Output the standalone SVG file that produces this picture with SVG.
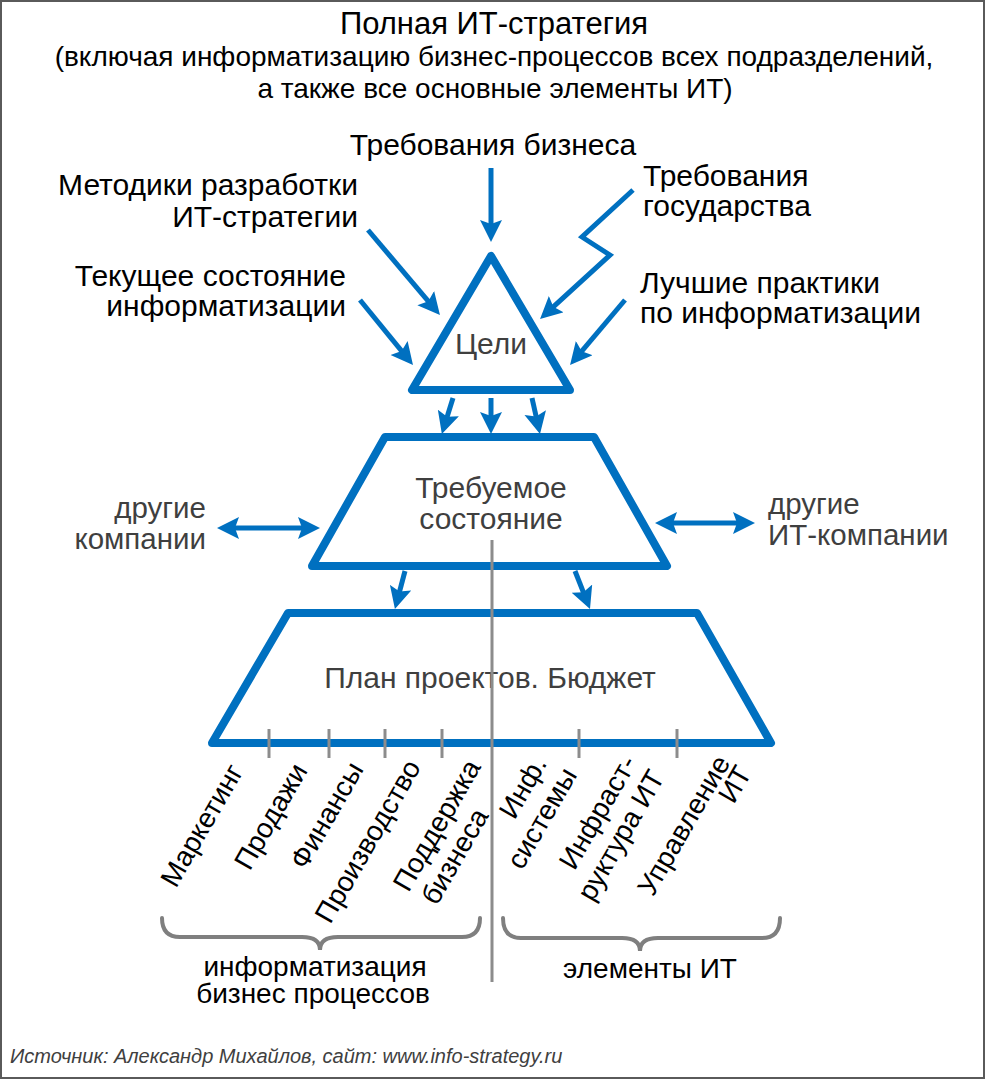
<svg xmlns="http://www.w3.org/2000/svg" width="986" height="1080" viewBox="0 0 986 1080">
<style>
.t{font-family:"Liberation Sans",Arial,sans-serif;font-size:30px;fill:#000}
.s{font-family:"Liberation Sans",Arial,sans-serif;font-size:28px;fill:#000}
.g{font-family:"Liberation Sans",Arial,sans-serif;font-size:30px;fill:#3f3f3f}
.r{font-family:"Liberation Sans",Arial,sans-serif;font-size:28px;fill:#000;text-anchor:middle}
.m{text-anchor:middle}
.e{text-anchor:end}
.shape{fill:#fff;stroke:#0070c0;stroke-width:8;stroke-linejoin:round}
.arr{fill:none;stroke:#0070c0;stroke-width:5}
.gl{fill:none;stroke:#8c8c8c;stroke-width:3}
.br{fill:none;stroke:#7f7f7f;stroke-width:4;stroke-linecap:round}
</style>
<defs>
<marker id="ah" markerUnits="userSpaceOnUse" markerWidth="24" markerHeight="24" refX="10" refY="11" orient="auto-start-reverse">
<path d="M0,0 L22,11 L0,22 L4,11 z" fill="#0070c0"/>
</marker>
</defs>
<rect x="1" y="1" width="983" height="1077" fill="#fff" stroke="#5a5a5a" stroke-width="2"/>
<g id="title">
<text class="s m" x="494" y="34" style="font-size:31px">Полная ИТ-стратегия</text>
<text class="s m" x="494" y="66">(включая информатизацию бизнес-процессов всех подразделений,</text>
<text class="s m" x="495" y="98">а также все основные элементы ИТ)</text>
</g>
<g id="inputs">
<text class="t m" x="493" y="155">Требования бизнеса</text>
<text class="t e" x="358" y="195">Методики разработки</text>
<text class="t e" x="358" y="227">ИТ-стратегии</text>
<text class="t" x="643" y="186">Требования</text>
<text class="t" x="643" y="216">государства</text>
<text class="t e" x="346" y="286">Текущее состояние</text>
<text class="t e" x="346" y="316">информатизации</text>
<text class="t" x="640" y="293">Лучшие практики</text>
<text class="t" x="640" y="323">по информатизации</text>
</g>
<g id="node-goals">
<polygon class="shape" points="491,256 412,390 570,390"/>
<text class="g m" x="491" y="354">Цели</text>
</g>
<g id="node-required">
<polygon class="shape" points="385,437 594,437 667,566 312,566"/>
<text class="g m" x="491" y="498">Требуемое</text>
<text class="g m" x="491" y="529">состояние</text>
</g>
<g id="node-plan">
<polygon class="shape" points="288,613 697,613 771,743 212,743"/>
<text class="g m" x="490" y="688">План проектов. Бюджет</text>
</g>
<g id="other-companies">
<text class="g e" x="206" y="518" style="font-size:29.5px">другие</text>
<text class="g e" x="206" y="549" style="font-size:29.5px">компании</text>
</g>
<g id="other-it-companies">
<text class="g" x="768" y="514" style="font-size:29.5px">другие</text>
<text class="g" x="768" y="545" style="font-size:29.5px">ИТ-компании</text>
</g>
<g id="connectors">
<path class="arr" d="M491,168 L491,230" marker-end="url(#ah)"/>
<path class="arr" d="M368,230 L432.2,305.8" marker-end="url(#ah)"/>
<path class="arr" d="M360,300 L405.4,355.7" marker-end="url(#ah)"/>
<path class="arr" d="M633,190 L582,237 L610,255 L548.9,310.9" marker-end="url(#ah)"/>
<path class="arr" d="M625,300 L577.8,355.8" marker-end="url(#ah)"/>
<path class="arr" d="M453,398 L445.4,422.5" marker-end="url(#ah)"/>
<path class="arr" d="M491,398 L491,422" marker-end="url(#ah)"/>
<path class="arr" d="M532,398 L537.4,422.3" marker-end="url(#ah)"/>
<path class="arr" d="M405,571 L398,597.4" marker-end="url(#ah)"/>
<path class="arr" d="M575,571 L585.6,597.9" marker-end="url(#ah)"/>
<path class="arr" d="M229,528 L308,528" marker-start="url(#ah)" marker-end="url(#ah)"/>
<path class="arr" d="M667,523 L743,523" marker-start="url(#ah)" marker-end="url(#ah)"/>
</g>
<g id="divider">
<line class="gl" x1="492" y1="540" x2="492" y2="982"/>
<line class="gl" x1="269" y1="729" x2="269" y2="758"/>
<line class="gl" x1="329" y1="729" x2="329" y2="758"/>
<line class="gl" x1="385" y1="729" x2="385" y2="758"/>
<line class="gl" x1="442" y1="729" x2="442" y2="758"/>
<line class="gl" x1="579" y1="729" x2="579" y2="758"/>
<line class="gl" x1="677" y1="729" x2="677" y2="758"/>
</g>
<g id="departments">
<text class="r" transform="translate(210,830) rotate(-60)">Маркетинг</text>
<text class="r" transform="translate(279,821) rotate(-60)">Продажи</text>
<text class="r" transform="translate(335,820) rotate(-60)">Финансы</text>
<text class="r" transform="translate(376,846) rotate(-60)">Производство</text>
<text class="r" transform="translate(445,830) rotate(-60)">Поддержка</text>
<text class="r" transform="translate(463,861) rotate(-60)">бизнеса</text>
<text class="r" transform="translate(531,792) rotate(-60)">Инф.</text>
<text class="r" transform="translate(550,823) rotate(-60)">системы</text>
<text class="r" transform="translate(606,817) rotate(-60)">Инфраст-</text>
<text class="r" transform="translate(629,840) rotate(-60)">руктура ИТ</text>
<text class="r" transform="translate(692,830) rotate(-60)">Управление</text>
<text class="r" transform="translate(743,789) rotate(-60)">ИТ</text>
</g>
<g id="groups">
<path class="br" d="M162,918 Q162,937 180,937 L302,937 Q320,937 320,950 Q320,937 338,937 L462,937 Q480,937 480,918"/>
<path class="br" d="M503,918 Q503,938 521,938 L622,938 Q640,938 640,951 Q640,938 658,938 L762,938 Q780,938 780,918"/>
<text class="s m" x="315" y="976">информатизация</text>
<text class="s m" x="313" y="1003">бизнес процессов</text>
<text class="s m" x="650" y="978">элементы ИТ</text>
</g>
<text id="source" x="10" y="1063" style="font-family:'Liberation Sans',Arial,sans-serif;font-size:20px;font-style:italic;fill:#404040">Источник: Александр Михайлов, сайт: www.info-strategy.ru</text>
</svg>
